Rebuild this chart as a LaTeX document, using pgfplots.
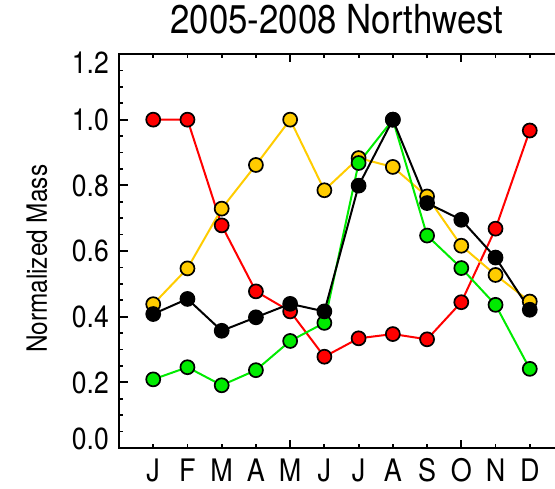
\documentclass[border=0pt]{standalone}
\usepackage{fontspec}
\setmainfont{TeX Gyre Heros}[FakeStretch=0.87]
\usepackage{pgfplots}
\pgfplotsset{compat=1.18}
\definecolor{cred}{RGB}{255,0,0}
\definecolor{cyel}{RGB}{255,204,0}
\definecolor{cgrn}{RGB}{0,235,0}
\begin{document}
\begin{tikzpicture}
\begin{axis}[
  at={(0,0)}, anchor=south west,
  scale only axis, width=445pt, height=394pt,
  xmin=0, xmax=13, ymin=0, ymax=1.2,
  xtick={1,2,3,4,5,6,7,8,9,10,11,12},
  xticklabels={J,F,M,A,M,J,J,A,S,O,N,D},
  extra x ticks={5,10}, extra x tick labels={},
  extra x tick style={major tick length=8pt},
  ytick={0,0.2,0.4,0.6,0.8,1.0,1.2},
  yticklabels={\raisebox{9pt}{0.0},0.2,0.4,0.6,0.8,1.0,\raisebox{-9pt}{1.2}},
  extra y ticks={0,0.2,0.4,0.6,0.8,1.0,1.2}, extra y tick labels={},
  extra y tick style={major tick length=9pt},
  minor y tick num=3,
  major tick length=4pt, minor tick length=4pt,
  tick style={line width=1.8pt, black},
  axis line style={line width=2.6pt},
  tick align=inside,
  /pgf/number format/assume math mode=true,
  xticklabel style={font=\fontsize{31}{36}\selectfont, anchor=base, inner sep=0pt, yshift=-34pt},
  yticklabel style={font=\fontsize{30.5}{36}\selectfont, anchor=base east, inner sep=0pt, xshift=-10pt, yshift=-11pt},
  title={2005-2008 Northwest},
  title style={font=\fontsize{40}{46}\selectfont, at={([yshift=14pt]axis description cs:0.49,1)}, anchor=base, inner sep=0pt},
  ylabel={Normalized Mass},
  ylabel style={font=\fontsize{28}{34}\selectfont, at={([xshift=-72pt]axis description cs:0,0.48)}, anchor=base, inner sep=0pt},
  every axis plot/.append style={line width=2pt, mark=*, mark size=7pt},
]
\addplot[cred, mark options={draw=black, fill=cred, line width=1.7pt}] coordinates {
(1,1.0)(2,1.0)(3,0.678)(4,0.477)(5,0.416)(6,0.278)(7,0.334)(8,0.347)(9,0.331)(10,0.444)(11,0.668)(12,0.967)};
\addplot[cyel, mark options={draw=black, fill=cyel, line width=1.7pt}] coordinates {
(1,0.438)(2,0.547)(3,0.729)(4,0.862)(5,1.0)(6,0.785)(7,0.883)(8,0.856)(9,0.766)(10,0.616)(11,0.527)(12,0.446)};
\addplot[cgrn, mark options={draw=black, fill=cgrn, line width=1.7pt}] coordinates {
(1,0.209)(2,0.246)(3,0.191)(4,0.237)(5,0.326)(6,0.381)(7,0.868)(8,1.0)(9,0.647)(10,0.548)(11,0.436)(12,0.241)};
\addplot[black, mark options={draw=black, fill=black, line width=1.7pt}] coordinates {
(1,0.408)(2,0.454)(3,0.357)(4,0.398)(5,0.439)(6,0.416)(7,0.799)(8,1.0)(9,0.746)(10,0.695)(11,0.580)(12,0.421)};
\end{axis}
\pgfresetboundingbox
\useasboundingbox (-119pt,-41pt) rectangle (436pt,448pt);
\end{tikzpicture}
\end{document}
